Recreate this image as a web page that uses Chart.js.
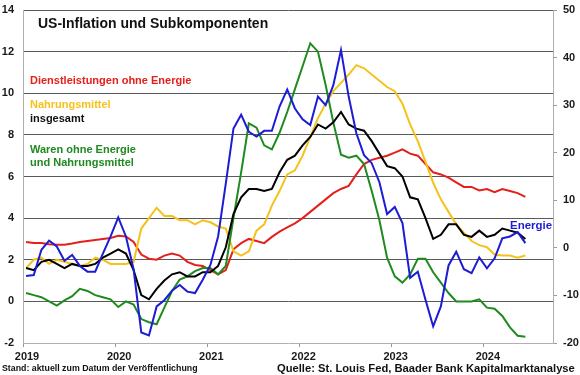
<!DOCTYPE html>
<html lang="de">
<head>
<meta charset="utf-8">
<title>US-Inflation und Subkomponenten</title>
<script src="https://cdn.jsdelivr.net/npm/chart.js@4.4.1/dist/chart.umd.min.js"></script>
<style>
  html, body { margin: 0; padding: 0; background: #fff; }
  #wrap {
    position: relative;
    width: 580px;
    height: 375px;
    overflow: hidden;
    font-family: Arial, "Liberation Sans", sans-serif;
    font-weight: bold;
  }
  #wrap canvas { position: absolute; left: 0; top: 0; }
  .lbl { position: absolute; white-space: nowrap; line-height: 1; }
</style>
</head>
<body>
<div id="wrap">
  <canvas id="chart" width="580" height="375"></canvas>
  <div class="lbl" style="left:38px;top:16px;font-size:14px;color:#111">US-Inflation und Subkomponenten</div>
  <div class="lbl" style="left:30px;top:75px;font-size:11px;color:#e3201b">Dienstleistungen ohne Energie</div>
  <div class="lbl" style="left:30px;top:99px;font-size:11px;color:#f5c21b">Nahrungsmittel</div>
  <div class="lbl" style="left:30px;top:113px;font-size:11px;color:#111">insgesamt</div>
  <div class="lbl" style="left:30px;top:144px;font-size:11px;color:#1f8a1f">Waren ohne Energie</div>
  <div class="lbl" style="left:30px;top:157px;font-size:11px;color:#1f8a1f">und Nahrungsmittel</div>
  <div class="lbl" style="left:510px;top:220px;font-size:11.5px;color:#1c1cd4">Energie</div>
  <div class="lbl" style="left:2px;top:364px;font-size:8.8px;color:#111">Stand: aktuell zum Datum der Veröffentlichung</div>
  <div class="lbl" style="left:277px;top:363px;font-size:11.2px;color:#111">Quelle: St. Louis Fed, Baader Bank Kapitalmarktanalyse</div>
</div>

<script>
// monthly y/y rates in %, Jan 2019 .. Jun 2024
const years = ['2019', '2020', '2021', '2022', '2023', '2024'];

const services = [
  2.85, 2.8, 2.8, 2.75, 2.72, 2.72, 2.78, 2.85, 2.9, 2.95, 3.0, 3.05,
  3.15, 3.12, 2.85, 2.25, 2.05, 2.0, 2.2, 2.3, 2.2, 1.9, 1.75, 1.7,
  1.5, 1.3, 1.5, 2.5, 2.8, 3.0, 2.9, 2.8, 3.1, 3.35, 3.55, 3.75,
  4.0, 4.3, 4.6, 4.9, 5.2, 5.4, 5.55, 6.1, 6.6, 6.8, 6.9, 7.0,
  7.15, 7.3, 7.1, 7.0, 6.6, 6.2, 6.1, 5.95, 5.72, 5.5, 5.5, 5.33,
  5.4, 5.25, 5.4, 5.3, 5.2, 5.02
];

const food = [
  1.6, 2.0, 2.1, 1.8, 2.0, 1.9, 1.8, 1.7, 1.8, 2.1, 2.0, 1.8,
  1.8, 1.8, 1.9, 3.5, 4.0, 4.5, 4.1, 4.1, 3.9, 3.9, 3.7, 3.9,
  3.8, 3.6, 3.5, 2.4, 2.2, 2.4, 3.4, 3.7, 4.6, 5.3, 6.1, 6.3,
  7.0, 7.9, 8.8, 9.5, 10.1, 10.5, 10.9, 11.35, 11.2, 10.9, 10.6, 10.3,
  10.1, 9.5, 8.5, 7.7, 6.7, 5.7, 4.9, 4.3, 3.7, 3.3, 2.9, 2.7,
  2.6, 2.25, 2.2, 2.2, 2.1, 2.2
];

const total = [
  1.6, 1.5, 1.9, 2.0, 1.8, 1.6, 1.8, 1.7, 1.7, 1.8, 2.1, 2.3,
  2.5, 2.3, 1.5, 0.3, 0.1, 0.6, 1.0, 1.3, 1.4, 1.2, 1.2, 1.4,
  1.4, 1.7, 2.6, 4.2, 5.0, 5.4, 5.4, 5.3, 5.4, 6.2, 6.8, 7.0,
  7.5, 7.9, 8.5, 8.3, 8.6, 9.1, 8.5, 8.3, 8.2, 7.7, 7.1, 6.5,
  6.4, 6.0, 5.0, 4.9, 4.0, 3.0, 3.2, 3.7, 3.7, 3.2, 3.1, 3.4,
  3.1, 3.2, 3.5, 3.4, 3.3, 3.0
];

const coreGoods = [
  0.4, 0.3, 0.2, 0.0, -0.2, 0.05, 0.25, 0.6, 0.5, 0.3, 0.2, 0.1,
  -0.27, 0.0, -0.15, -0.85, -1.0, -1.1, -0.3, 0.5, 1.05, 1.2, 1.45, 1.6,
  1.6, 1.3, 1.7, 4.0, 6.2, 8.55, 8.35, 7.5, 7.3, 8.1, 9.1, 10.2,
  11.3, 12.4, 12.0, 10.4, 8.6, 7.05, 6.9, 7.0, 6.6, 5.3, 3.9, 2.1,
  1.2, 0.9, 1.3, 2.05, 2.05, 1.4, 0.9, 0.4, 0.0, 0.0, 0.0, 0.1,
  -0.3, -0.35, -0.7, -1.25, -1.65, -1.7
];

// right axis
const energy = [
  -5.9, -5.7, -0.4, 1.5, 0.3, -2.7, -1.5, -3.8, -5.0, -5.0, -1.2, 2.4,
  6.4, 2.4, -4.5, -17.8, -18.4, -12.3, -11.0, -9.0, -7.8, -9.2, -9.5, -6.7,
  -3.6, 2.4, 13.5, 25.1, 28.0, 24.4, 23.4, 24.6, 24.6, 29.7, 33.3, 29.3,
  27.0, 25.8, 31.8, 30.0, 34.2, 41.6, 31.8, 24.1, 19.5, 17.8, 13.8, 7.1,
  8.6, 5.2, -6.3, -5.0, -10.9, -16.5, -12.3, -3.7, -0.8, -4.5, -5.3, -2.0,
  -4.3, -2.2, 2.0, 2.4, 3.3, 1.0
];

// months since Jan 2019, points sit a bit into the month
const toPoints = arr => arr.map((v, i) => ({ x: i + 0.4, y: v }));

const tickFont = { family: 'Arial, "Liberation Sans", sans-serif', size: 11, weight: 'bold' };

function line(label, values, color, axis) {
  return {
    label: label,
    data: toPoints(values),
    borderColor: color,
    borderWidth: 2,
    pointRadius: 0,
    tension: 0,
    fill: false,
    yAxisID: axis
  };
}

// fixed box sizes so the plot area matches the original
function fixBox(w, h) {
  return scale => {
    if (w !== null) scale.width = w;
    if (h !== null) scale.height = h;
    scale.paddingTop = 0;
    scale.paddingBottom = 0;
    scale.paddingLeft = 0;
    scale.paddingRight = 0;
  };
}

new Chart(document.getElementById('chart'), {
  type: 'line',
  data: {
    // first dataset is drawn on top
    datasets: [
      line('Energie', energy, '#1c1cd4', 'yR'),
      line('insgesamt', total, '#000000', 'y'),
      line('Waren ohne Energie und Nahrungsmittel', coreGoods, '#1f8a1f', 'y'),
      line('Nahrungsmittel', food, '#f5c21b', 'y'),
      line('Dienstleistungen ohne Energie', services, '#e3201b', 'y')
    ]
  },
  options: {
    responsive: false,
    animation: false,
    devicePixelRatio: 1,
    layout: { padding: { top: 10, left: 0, right: 0, bottom: 0 } },
    plugins: {
      legend: { display: false },
      tooltip: { enabled: false }
    },
    scales: {
      x: {
        type: 'linear',
        min: 0,
        max: 69,
        afterBuildTicks: scale => {
          scale.ticks = years.map((y, i) => ({ value: i * 12 }));
        },
        afterFit: fixBox(null, 32),
        ticks: {
          callback: v => years[Math.round(v / 12)],
          font: tickFont,
          color: '#1a1a1a',
          padding: 3,
          labelOffset: 4,
          maxRotation: 0
        },
        grid: { drawOnChartArea: false, drawTicks: true, tickLength: 4, color: '#999' },
        border: { display: true, color: '#b0b0b0' }
      },
      y: {
        position: 'left',
        min: -2,
        max: 14,
        afterFit: fixBox(23, null),
        ticks: { stepSize: 2, font: tickFont, color: '#1a1a1a', padding: 9 },
        grid: {
          drawTicks: false,
          color: ctx => (ctx.tick && ctx.tick.value === -2 ? 'rgba(0,0,0,0)' : '#5a5a5a')
        },
        border: { display: true, color: '#b0b0b0' }
      },
      yR: {
        position: 'right',
        min: -20,
        max: 50,
        afterFit: fixBox(27, null),
        ticks: { stepSize: 10, font: tickFont, color: '#1a1a1a', padding: 6 },
        grid: { drawOnChartArea: false, drawTicks: true, tickLength: 4, color: '#999' },
        border: { display: true, color: '#b0b0b0' }
      }
    }
  }
});
</script>
</body>
</html>
